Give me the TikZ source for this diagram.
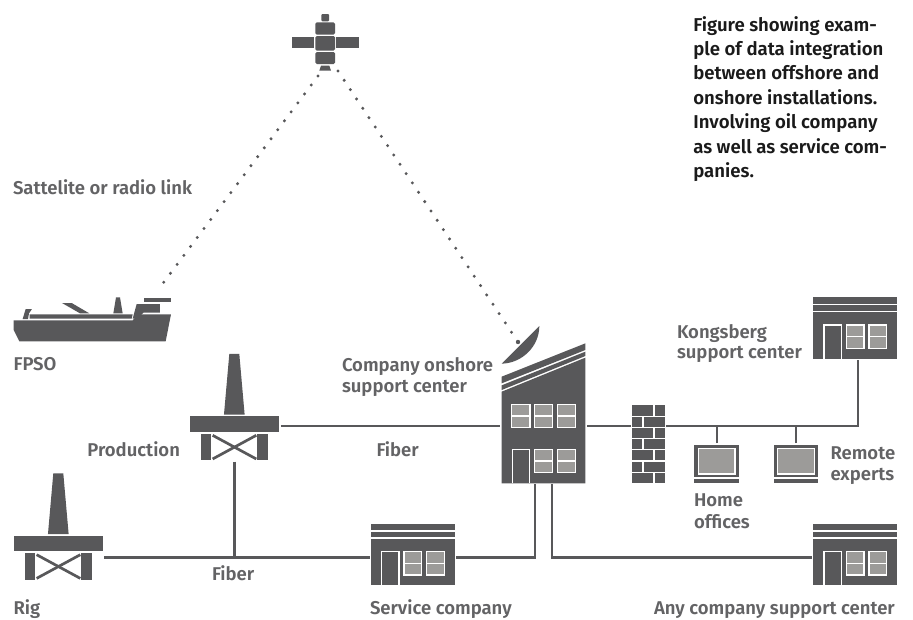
\documentclass[tikz,border=0pt]{standalone}
\usepackage{fontspec}
\setmainfont{Fira Sans}[BoldFont={Fira Sans SemiBold}]
\definecolor{ic}{HTML}{58585A}
\definecolor{gl}{HTML}{9C9B99}
\definecolor{tx}{HTML}{636365}
\definecolor{cap}{HTML}{1A1A1A}
\tikzset{
  pane/.style={fill=gl,draw=white,line width=1.1pt},
  wire/.style={draw=ic,line width=2.4pt},
  door/.style={fill=ic,draw=white,line width=1.1pt},
  radio/.style={draw=ic,line width=3.3pt,line cap=round,dash pattern=on 0pt off 11.2pt},
  slot/.style={inner sep=0pt,outer sep=0pt,draw=none},
  lab/.style={font=\fontsize{18.5}{22}\selectfont\bfseries,text=tx,inner sep=0pt,outer sep=0pt,align=left},
  note/.style={font=\fontsize{18.6}{24.45}\selectfont\bfseries,text=cap,inner sep=0pt,outer sep=0pt,align=left}
}
\newcommand{\zoomed}[3]{\begin{scope}[shift={(#1,#2)},x=0.33333pt,y=-0.33333pt]#3\end{scope}}
\newcommand{\platformicon}[2]{\zoomed{#1}{#2}{
  \fill[ic] (-31,-5)--(-15,-187)--(15,-187)--(31,-5)--cycle;
  \fill[ic] (-134,0) rectangle (134,47);
  \fill[ic] (-100,52) rectangle (-69,132);
  \fill[ic] (69,52) rectangle (100,132);
  \draw[ic,line width=2.7pt] (-65,57)--(66,128);
  \draw[ic,line width=2.7pt] (66,57)--(-65,128);
}}
\newcommand{\shopicon}[2]{\zoomed{#1}{#2}{
  \fill[ic] (400,52) rectangle (652,71);
  \fill[ic] (400,76) rectangle (652,92);
  \fill[ic] (400,97) rectangle (652,236);
  \draw[door] (432,236)--(432,135)--(484,135)--(484,236);
  \draw[pane] (499,135) rectangle (552,205);
  \draw[white,line width=1.1pt] (499,170)--(552,170);
  \draw[pane] (567,135) rectangle (620,205);
  \draw[white,line width=1.1pt] (567,170)--(620,170);
}}
\newcommand{\laptopicon}[1]{\zoomed{#1}{280}{
  \fill[ic] (43,495) rectangle (176,592);
  \draw[pane] (55,505) rectangle (165,582);
  \fill[ic] (43,598) rectangle (176,610);
}}
\begin{document}
\begin{tikzpicture}[x=1pt,y=-1pt]
\useasboundingbox (0,0) rectangle (913,619);

% icon slots used by the connectors
\node[slot,minimum width=93pt,minimum height=71.4pt] (prod) at (234.3,426) {};
\node[slot,minimum width=92pt,minimum height=60pt] (rig) at (58.3,557.5) {};
\node[slot,minimum width=86pt,minimum height=56pt] (svc) at (413,557.5) {};
\node[slot,minimum width=87pt,minimum height=116pt] (bldg) at (543.5,426) {};
\node[slot,minimum width=35.3pt,minimum height=20pt] (wall) at (648.3,426) {};
\node[slot,minimum width=78pt,minimum height=60pt] (kong) at (858,330) {};
\node[slot,minimum width=86pt,minimum height=56pt] (any) at (855,557.5) {};
\node[slot,minimum width=44pt,minimum height=38pt] (home) at (716.7,462) {};
\node[slot,minimum width=44pt,minimum height=38pt] (remote) at (796,462) {};
\coordinate (bl) at (535,484);
\coordinate (br) at (552,484);
\coordinate (satl) at (318,76);
\coordinate (satr) at (338,71);
\coordinate (shipmast) at (161,286);
\coordinate (dish) at (518,342);

% connectors
\draw[wire] (prod.east)--(bldg.west);
\draw[wire] (rig.east)--(svc.west);
\draw[wire] (prod.south)--(prod.south |- rig.east);
\draw[wire] (svc.east)-|(bl);
\draw[wire] (br)|-(any.west);
\draw[wire] (bldg.east)--(wall.west);
\draw[wire] (wall.east)-|(kong.south);
\draw[wire] (home.north)--(home.north |- wall.east);
\draw[wire] (remote.north)--(remote.north |- wall.east);
\draw[radio] (satl)--(shipmast);
\draw[radio] (satr)--(dish);
\fill[ic] (dish) circle (2.2pt);

% satellite
\zoomed{270}{0}{
  \fill[ic,rounded corners=1pt] (154,42) rectangle (177,64);
  \fill[ic,rounded corners=1.5pt] (136,67) rectangle (195,104);
  \fill[ic,rounded corners=1.5pt] (136,108) rectangle (195,152);
  \fill[ic,rounded corners=1.5pt] (136,156) rectangle (195,192);
  \fill[ic] (65,111) rectangle (133,144);
  \fill[ic] (198,111) rectangle (266,144);
  \fill[ic] (148,212)--(183,212)--(178,197)--(153,197)--cycle;
}

% ship
\zoomed{0}{280}{
  \fill[ic] (41,121)--(398,121)--(415,103)--(513,103)--(497,184)--(58,184)--(41,150)--cycle;
  \fill[ic] (89,103)--(398,103)--(395,116)--(89,116)--cycle;
  \fill[ic] (68,117)--(77,87)--(96,87)--(87,100)--(84,117)--cycle;
  \fill[ic] (398,116)--(410,72)--(480,72)--(480,98)--(430,98)--(412,116)--cycle;
  \fill[ic] (433,55) rectangle (513,65);
  \fill[ic] (340,100)--(348,52)--(360,52)--(368,100)--cycle;
  \fill[ic] (186,69)--(215,69)--(268,100)--(240,100)--cycle;
}

% platforms
\platformicon{234.3}{416.3}
\platformicon{58.3}{535.7}

% shops
\shopicon{237.67}{506.67}
\shopicon{680}{280}
\shopicon{680}{506.67}

% main building
\zoomed{480}{310}{
  \fill[ic] (65,520)--(65,245)--(316,143)--(316,520)--cycle;
  \fill[ic] (65,200)--(316,100)--(316,120)--(65,220)--cycle;
  \fill[ic] (65,226)--(316,125)--(316,138)--(65,240)--cycle;
  \foreach \xa/\xb/\ya/\yb in {95/150/283/353,163/218/283/353,232/286/283/353,163/218/418/488,232/286/418/488}{
    \draw[pane] (\xa,\ya) rectangle (\xb,\yb);
    \draw[white,line width=1.1pt] (\xa,{(\ya+\yb)/2}) -- (\xb,{(\ya+\yb)/2});
  }
  \draw[door] (97,520)--(97,418)--(148,418)--(148,520);
  \fill[ic] (65,161) -- (178,48) .. controls (178,110) and (125,160) .. (65,161) -- cycle;
  % firewall
  \fill[ic] (456,286) rectangle (554,520);
  \foreach \yy in {319,352.5,386,419.5,453,486.5}{
    \draw[white,line width=1.2pt] (456,\yy)--(554,\yy);
  }
  \foreach \yy in {286,352.5,419.5,486.5}{
    \draw[white,line width=1.2pt] (522,\yy)--(522,\yy+33.5);
  }
  \foreach \yy in {319,386,453}{
    \draw[white,line width=1.2pt] (489,\yy)--(489,\yy+33.5);
  }
}

% laptops
\laptopicon{680}
\laptopicon{759.5}

% labels
\node[lab,anchor=base west] (t1) at (13,194.5) {Sattelite or radio link};
\node[lab,anchor=base west] (t2) at (13.5,370.5) {FPSO};
\node[lab,anchor=base east] (t3) at (180,456) {Production};
\node[lab,anchor=base west] (t4) at (376.5,456) {Fiber};
\node[lab,anchor=base west] (t5) at (212,580) {Fiber};
\node[lab,anchor=base west] (t6) at (13.5,614) {Rig};
\node[lab,anchor=base west] (t7) at (370,614) {Service company};
\node[lab,anchor=base west] (t8) at (654,614) {Any company support center};
\node[lab,anchor=base west] (t9a) at (342,371.5) {Company onshore};
\node[lab,anchor=base west] (t9b) at (342,392) {support center};
\node[lab,anchor=base west] (t10a) at (677,338) {Kongsberg};
\node[lab,anchor=base west] (t10b) at (677,358) {support center};
\node[lab,anchor=base west] (t11a) at (830.5,459.5) {Remote};
\node[lab,anchor=base west] (t11b) at (830.5,480) {experts};
\node[lab,anchor=base west] (t12a) at (694,506.5) {Home};
\node[lab,anchor=base west] (t12b) at (694,528.3) {offices};
\node[note,anchor=base west] (c1) at (693.3,31) {Figure showing exam-};
\node[note,anchor=base west] (c2) at (693.3,55.4) {ple of data integration};
\node[note,anchor=base west] (c3) at (693.3,79.8) {between offshore and};
\node[note,anchor=base west] (c4) at (693.3,104.2) {onshore installations.};
\node[note,anchor=base west] (c5) at (693.3,128.7) {Involving oil company};
\node[note,anchor=base west] (c6) at (693.3,153.1) {as well as service com-};
\node[note,anchor=base west] (c7) at (693.3,177.5) {panies.};
\end{tikzpicture}
\end{document}
